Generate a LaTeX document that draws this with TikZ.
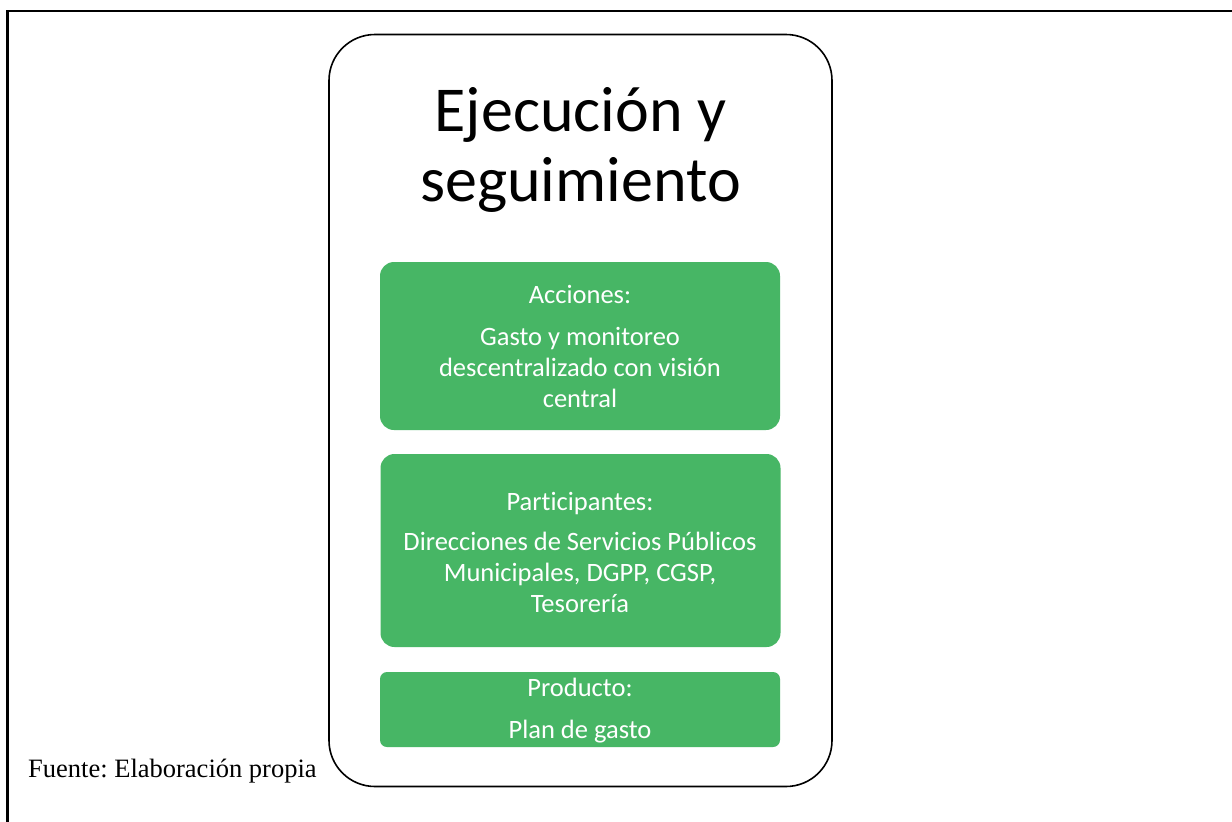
\documentclass[tikz,border=0pt]{standalone}
\usepackage{fontspec}
\setmainfont{Liberation Serif}
\newfontfamily\calibri[Ligatures=NoCommon]{Carlito}
\definecolor{boxgreen}{RGB}{71,182,101}
\frenchspacing
\begin{document}
\begin{tikzpicture}[x=1pt,y=-1pt,
  greenbox/.style={fill=boxgreen, draw=none, rounded corners=#1, inner sep=0pt},
  greenbox/.default=14pt,
  boxtext/.style={anchor=base, text=white, font=\calibri\fontsize{26.5}{31}\selectfont, inner sep=0pt, align=center},
  bigbox/.style={draw=black, line width=1.6pt, rounded corners=46pt, inner sep=0pt}
]
\useasboundingbox (0,0) rectangle (1232,822);
\fill[white] (0,0) rectangle (1232,822);
% frame
\draw[line width=2.8pt] (7.5,822) -- (7.5,11) -- (1232,11);
% big rounded container
\node[bigbox, minimum width=503pt, minimum height=752pt] (main) at (580.5,410.5) {};
\node[anchor=base, inner sep=0pt, align=center, font=\calibri\fontsize{64}{70}\selectfont] (title) at (580.5,131) {Ejecución y};
\node[anchor=base, inner sep=0pt, font=\calibri\fontsize{64}{70}\selectfont] (title2) at (580.5,201) {seguimiento};
% green boxes
\node[greenbox, minimum width=400pt, minimum height=168pt] (acc) at (580,346) {};
\node[greenbox, minimum width=400pt, minimum height=193pt] (part) at (580.5,550.5) {};
\node[greenbox=7pt, minimum width=400pt, minimum height=75pt] (prod) at (580,709.5) {};
% texts
\node[boxtext] (acch) at (580,303) {Acciones:};
\node[boxtext] (acc1) at (580,345) {Gasto y monitoreo};
\node[boxtext] (acc2) at (580,376) {descentralizado con visión};
\node[boxtext] (acc3) at (580,407) {central};
\node[boxtext] (parth) at (580,510) {Participantes:};
\node[boxtext] (part1) at (580,550) {Direcciones de Servicios Públicos};
\node[boxtext] (part2) at (580,581) {Municipales, DGPP, CGSP,};
\node[boxtext] (part3) at (580,612) {Tesorería};
\node[boxtext] (prodh) at (580,696) {Producto:};
\node[boxtext] (prod1) at (580,738) {Plan de gasto};
% source
\node[anchor=base west, inner sep=0pt, font=\fontsize{26.5}{31}\selectfont] (src) at (28,777) {Fuente: Elaboración propia};
\end{tikzpicture}
\end{document}
